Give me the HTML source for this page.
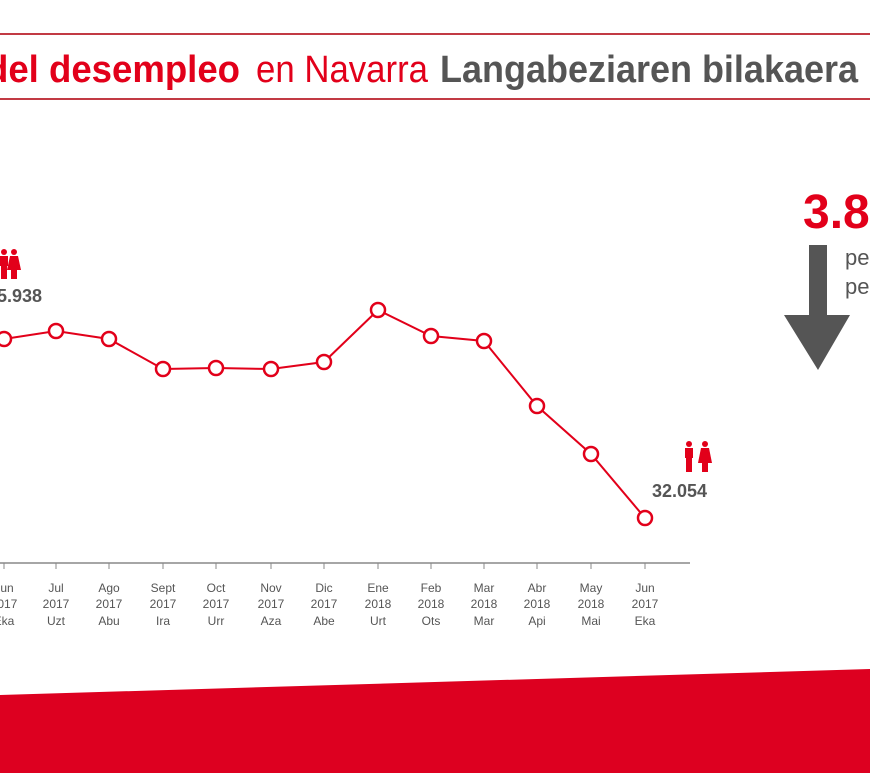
<!DOCTYPE html>
<html><head><meta charset="utf-8"><style>
html,body{margin:0;padding:0;background:#fff;width:870px;height:773px;overflow:hidden}
svg{display:block}
</style></head><body>
<svg width="870" height="773" xmlns="http://www.w3.org/2000/svg" font-family="Liberation Sans, sans-serif">
<rect width="870" height="773" fill="#fff"/>
<line x1="0" y1="34" x2="870" y2="34" stroke="#c23a44" stroke-width="2"/>
<line x1="0" y1="99" x2="870" y2="99" stroke="#c23a44" stroke-width="2"/>
<text x="-14" y="82" font-size="38" font-weight="bold" fill="#e2001a" textLength="254" lengthAdjust="spacingAndGlyphs">del desempleo</text>
<text x="256" y="82" font-size="38" fill="#e2001a" textLength="172" lengthAdjust="spacingAndGlyphs">en Navarra</text>
<text x="440" y="82" font-size="38" font-weight="bold" fill="#555" textLength="418" lengthAdjust="spacingAndGlyphs">Langabeziaren bilakaera</text>

<polygon points="0,695 870,669 870,773 0,773" fill="#dd0020"/>

<line x1="0" y1="563" x2="690" y2="563" stroke="#888" stroke-width="1.5"/>
<g stroke="#888" stroke-width="1">
<line x1="4" y1="563" x2="4" y2="569"/><line x1="56" y1="563" x2="56" y2="569"/><line x1="109" y1="563" x2="109" y2="569"/><line x1="163" y1="563" x2="163" y2="569"/><line x1="216" y1="563" x2="216" y2="569"/><line x1="271" y1="563" x2="271" y2="569"/><line x1="324" y1="563" x2="324" y2="569"/><line x1="378" y1="563" x2="378" y2="569"/><line x1="431" y1="563" x2="431" y2="569"/><line x1="484" y1="563" x2="484" y2="569"/><line x1="537" y1="563" x2="537" y2="569"/><line x1="591" y1="563" x2="591" y2="569"/><line x1="645" y1="563" x2="645" y2="569"/>
</g>
<g font-size="12" fill="#555" text-anchor="middle">
<text x="4" y="592">Jun</text><text x="4" y="608">2017</text><text x="4" y="625">Eka</text>
<text x="56" y="592">Jul</text><text x="56" y="608">2017</text><text x="56" y="625">Uzt</text>
<text x="109" y="592">Ago</text><text x="109" y="608">2017</text><text x="109" y="625">Abu</text>
<text x="163" y="592">Sept</text><text x="163" y="608">2017</text><text x="163" y="625">Ira</text>
<text x="216" y="592">Oct</text><text x="216" y="608">2017</text><text x="216" y="625">Urr</text>
<text x="271" y="592">Nov</text><text x="271" y="608">2017</text><text x="271" y="625">Aza</text>
<text x="324" y="592">Dic</text><text x="324" y="608">2017</text><text x="324" y="625">Abe</text>
<text x="378" y="592">Ene</text><text x="378" y="608">2018</text><text x="378" y="625">Urt</text>
<text x="431" y="592">Feb</text><text x="431" y="608">2018</text><text x="431" y="625">Ots</text>
<text x="484" y="592">Mar</text><text x="484" y="608">2018</text><text x="484" y="625">Mar</text>
<text x="537" y="592">Abr</text><text x="537" y="608">2018</text><text x="537" y="625">Api</text>
<text x="591" y="592">May</text><text x="591" y="608">2018</text><text x="591" y="625">Mai</text>
<text x="645" y="592">Jun</text><text x="645" y="608">2017</text><text x="645" y="625">Eka</text>
</g>
<polyline fill="none" stroke="#e2001a" stroke-width="2" points="4,339 56,331 109,339 163,369 216,368 271,369 324,362 378,310 431,336 484,341 537,406 591,454 645,518"/>
<g fill="#fff" stroke="#e2001a" stroke-width="2.5">
<circle cx="4" cy="339" r="7"/><circle cx="56" cy="331" r="7"/><circle cx="109" cy="339" r="7"/><circle cx="163" cy="369" r="7"/><circle cx="216" cy="368" r="7"/><circle cx="271" cy="369" r="7"/><circle cx="324" cy="362" r="7"/><circle cx="378" cy="310" r="7"/><circle cx="431" cy="336" r="7"/><circle cx="484" cy="341" r="7"/><circle cx="537" cy="406" r="7"/><circle cx="591" cy="454" r="7"/><circle cx="645" cy="518" r="7"/>
</g>
<text x="-3" y="302" font-size="18" font-weight="bold" fill="#555">5.938</text>
<text x="652" y="497" font-size="18" font-weight="bold" fill="#555">32.054</text>
<g fill="#e2001a">
<circle cx="689" cy="444" r="3"/><rect x="685" y="448" width="8" height="10"/><rect x="686" y="457" width="6" height="15"/>
<circle cx="705" cy="444" r="3"/><polygon points="701,448 709,448 712,463 698,463"/><rect x="702" y="462" width="6" height="10"/>
<circle cx="4" cy="252" r="3"/><rect x="0" y="256" width="8" height="10"/><rect x="1" y="265" width="6" height="14"/>
<circle cx="14" cy="252" r="3"/><polygon points="10,256 18,256 21,270 7,270"/><rect x="11" y="269" width="6" height="10"/>
</g>
<text x="803" y="228" font-size="48" font-weight="bold" fill="#e2001a">3.8</text>
<polygon points="809,245 827,245 827,315 850,315 818,370 784,315 809,315" fill="#555"/>
<text x="845" y="265" font-size="22" fill="#555">pe</text>
<text x="845" y="294" font-size="22" fill="#555">pe</text>
</svg>
</body></html>
